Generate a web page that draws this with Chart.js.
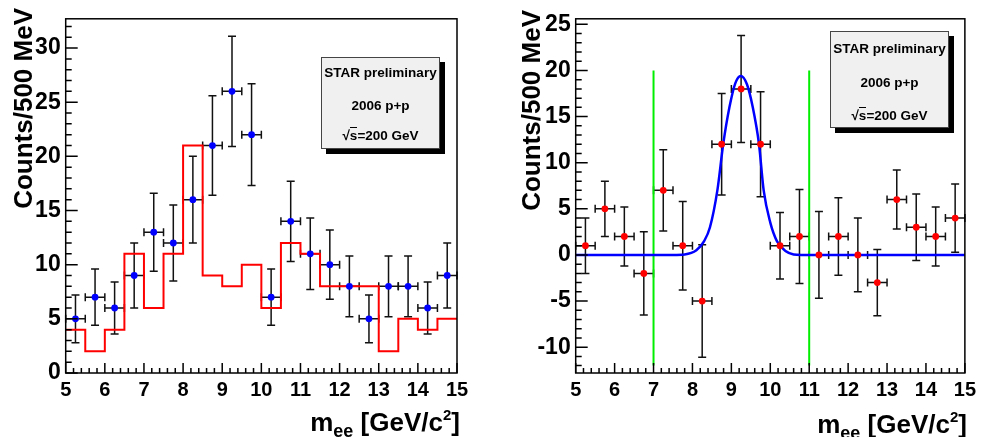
<!DOCTYPE html>
<html>
<head>
<meta charset="utf-8">
<script src="https://cdn.jsdelivr.net/npm/chart.js@4.4.1/dist/chart.umd.min.js"></script>
<style>
  body { margin: 0; background: #fff; font-family: "Liberation Sans", Arial, sans-serif; }
  #wrap { position: relative; width: 981px; height: 437px; overflow: hidden; }
  .pane { position: absolute; top: 0; }
  .ytitle {
    position: absolute; width: 300px; text-align: right; white-space: nowrap;
    font-weight: bold; font-size: 26px; line-height: 26px;
    transform-origin: left top; transform: rotate(-90deg);
  }
  .xtitle {
    position: absolute; text-align: right; white-space: nowrap;
    font-weight: bold; font-size: 26px; line-height: 30px;
  }
  .xtitle sub { font-size: 18px; vertical-align: -6px; }
  .xtitle sup { font-size: 15px; vertical-align: 11px; }
  .label {
    position: absolute; width: 117px; background: #f0f0f0; border: 1px solid #444;
    box-shadow: 5px 5px 0 #000; font-weight: bold; font-size: 13.5px; text-align: center;
  }
  .label div { position: absolute; left: 0; width: 100%; }
  .rt { border-top: 1.5px solid #000; }
</style>
</head>
<body>
<div id="wrap">
  <div class="pane" style="left:0"><canvas id="leftChart" width="490" height="437"></canvas></div>
  <div class="pane" style="left:490px"><canvas id="rightChart" width="491" height="437"></canvas></div>

  <div class="ytitle" style="left:10px; top:308px">Counts/500 MeV</div>
  <div class="ytitle" style="left:518px; top:310px">Counts/500 MeV</div>
  <div class="xtitle" style="right:521px; top:400px">m<sub>ee</sub> [GeV/c<sup>2</sup>]</div>
  <div class="xtitle" style="right:14px; top:402px">m<sub>ee</sub> [GeV/c<sup>2</sup>]</div>

  <div class="label" style="left:321px; top:57px; height:90px">
    <div style="top:7px">STAR preliminary</div>
    <div style="top:40px">2006 p+p</div>
    <div style="top:70px">√<span class="rt">s</span>=200 GeV</div>
  </div>
  <div class="label" style="left:830px; top:31px; height:95px">
    <div style="top:9px">STAR preliminary</div>
    <div style="top:43px">2006 p+p</div>
    <div style="top:76px">√<span class="rt">s</span>=200 GeV</div>
  </div>
</div>

<script>
// bins of 500 MeV between 5 and 15 GeV
const binCenters = [5.25, 5.75, 6.25, 6.75, 7.25, 7.75, 8.25, 8.75, 9.25, 9.75,
                    10.25, 10.75, 11.25, 11.75, 12.25, 12.75, 13.25, 13.75, 14.25, 14.75];
const binLowEdges = [5, 5.5, 6, 6.5, 7, 7.5, 8, 8.5, 9, 9.5,
                     10, 10.5, 11, 11.5, 12, 12.5, 13, 13.5, 14, 14.5];
const binHalfWidth = 0.25;
const xMaxEdge = 15;

// left: unlike-sign pairs (points) and like-sign pairs (red histogram)
const unlikeSign = [5, 7, 6, 9, 13, 12, 16, 21, 26, 22, 7, 14, 11, 10, 8, 5, 8, 8, 6, 9];
const unlikeErr = [2.2, 2.6, 2.4, 3.0, 3.6, 3.5, 4.0, 4.6, 5.1, 4.7, 2.6, 3.7, 3.3, 3.2, 2.8, 2.2, 2.8, 2.8, 2.4, 3.0];
const likeSign = [4, 2, 4, 11, 6, 11, 21, 9, 8, 10, 6, 12, 11, 8, 8, 8, 2, 5, 4, 5];

// right: background-subtracted signal with fit
const signal = [1, 5, 2, -2, 7, 1, -5, 12, 18, 12, 1, 2, 0, 2, 0, -3, 6, 3, 2, 4];
const signalErr = [3.0, 3.0, 3.2, 4.5, 4.4, 4.8, 6.1, 5.5, 5.8, 5.7, 3.6, 5.1, 4.7, 4.2, 4.0, 3.6, 3.2, 3.6, 3.2, 3.7];
const fitX = [5.0, 7.5, 7.8, 8.1, 8.3, 8.45, 8.64, 8.79, 8.95, 9.1, 9.24, 9.4, 9.55, 9.71, 9.83, 10.0, 10.17, 10.4, 10.6, 10.8, 15.0];
const fitY = [0, 0, 0.05, 0.5, 1.5, 3.0, 7.0, 12.0, 16.0, 18.6, 19.4, 18.5, 16.0, 12.0, 7.0, 3.5, 1.5, 0.4, 0.05, 0, 0];

// mass window cuts
const cutLines = [7, 11];
const cutYRange = [-12, 20];

const FONT = "'Liberation Sans', Arial, sans-serif";

function drawErrors(chart, xs, ys, es) {
  const { ctx, scales: { x, y } } = chart;
  ctx.save();
  ctx.strokeStyle = "#111";
  ctx.lineWidth = 1.5;
  xs.forEach((xv, i) => {
    const px = x.getPixelForValue(xv);
    const py = y.getPixelForValue(ys[i]);
    const x0 = x.getPixelForValue(xv - binHalfWidth);
    const x1 = x.getPixelForValue(xv + binHalfWidth);
    const yTop = y.getPixelForValue(ys[i] + es[i]);
    const yBot = y.getPixelForValue(ys[i] - es[i]);
    ctx.beginPath();
    ctx.moveTo(px, yTop); ctx.lineTo(px, yBot);
    ctx.moveTo(px - 4, yTop); ctx.lineTo(px + 4, yTop);
    ctx.moveTo(px - 4, yBot); ctx.lineTo(px + 4, yBot);
    ctx.moveTo(x0, py); ctx.lineTo(x1, py);
    ctx.moveTo(x0, py - 4); ctx.lineTo(x0, py + 4);
    ctx.moveTo(x1, py - 4); ctx.lineTo(x1, py + 4);
    ctx.stroke();
  });
  ctx.restore();
}

// frame plus ROOT-like inward ticks
function drawFrame(chart) {
  const { ctx, chartArea: a, scales: { x, y } } = chart;
  ctx.save();
  ctx.strokeStyle = "#000";
  ctx.lineWidth = 1.5;
  ctx.strokeRect(a.left, a.top, a.right - a.left, a.bottom - a.top);
  ctx.beginPath();
  for (let k = Math.round(x.min * 5); k <= Math.round(x.max * 5); k++) {
    const px = x.getPixelForValue(k / 5);
    const len = k % 5 === 0 ? 10 : 5;
    ctx.moveTo(px, a.bottom); ctx.lineTo(px, a.bottom - len);
  }
  for (let v = Math.ceil(y.min); v <= Math.floor(y.max); v++) {
    const py = y.getPixelForValue(v);
    const len = v % 5 === 0 ? 12 : 6;
    ctx.moveTo(a.left, py); ctx.lineTo(a.left + len, py);
  }
  ctx.stroke();
  ctx.restore();
}

const rootStyle = {
  id: "rootStyle",
  beforeDatasetsDraw(chart, args, opts) {
    drawErrors(chart, binCenters, opts.values, opts.errors);
  },
  afterDraw(chart) {
    drawFrame(chart);
  }
};

function makeScales(yMin, yMax, yWidth) {
  return {
    x: {
      type: "linear", min: 5, max: xMaxEdge,
      grid: { display: false, drawTicks: false },
      border: { display: false },
      ticks: { stepSize: 1, padding: 5, color: "#000", font: { family: FONT, size: 20, weight: "bold" } },
      afterFit: s => { s.height = 64; }
    },
    y: {
      type: "linear", min: yMin, max: yMax,
      grid: { display: false, drawTicks: false },
      border: { display: false },
      ticks: { stepSize: 5, padding: 5, color: "#000", font: { family: FONT, size: 23, weight: "bold" } },
      afterBuildTicks: s => {
        const ticks = [];
        for (let v = Math.ceil(s.min / 5) * 5; v <= s.max; v += 5) ticks.push({ value: v });
        s.ticks = ticks;
      },
      afterFit: s => { s.width = yWidth; }
    }
  };
}

// histogram as a stepped line through bin edges
const likeSignSteps = binLowEdges.map((e, i) => ({ x: e, y: likeSign[i] }));
likeSignSteps.push({ x: xMaxEdge, y: likeSign[likeSign.length - 1] });

new Chart(document.getElementById("leftChart"), {
  type: "scatter",
  data: {
    datasets: [
      {
        type: "scatter",
        data: binCenters.map((c, i) => ({ x: c, y: unlikeSign[i] })),
        pointRadius: 3.4, backgroundColor: "#0000ff", borderWidth: 0
      },
      {
        type: "line",
        data: likeSignSteps,
        stepped: "before", borderColor: "#ff0000", borderWidth: 2, pointRadius: 0, fill: false
      }
    ]
  },
  options: {
    responsive: false, animation: false,
    layout: { padding: { top: 6, right: 33, left: 0, bottom: 0 } },
    scales: makeScales(0, 32.7, 65.7),
    plugins: {
      legend: { display: false }, tooltip: { enabled: false },
      rootStyle: { values: unlikeSign, errors: unlikeErr }
    }
  },
  plugins: [rootStyle]
});

new Chart(document.getElementById("rightChart"), {
  type: "scatter",
  data: {
    datasets: [
      {
        type: "scatter",
        data: binCenters.map((c, i) => ({ x: c, y: signal[i] })),
        pointRadius: 3.4, backgroundColor: "#ff0000", borderWidth: 0
      },
      {
        type: "line",
        data: fitX.map((v, i) => ({ x: v, y: fitY[i] })),
        borderColor: "#0000ff", borderWidth: 2.5, pointRadius: 0, fill: false,
        cubicInterpolationMode: "monotone"
      },
      ...cutLines.map(c => ({
        type: "line",
        data: cutYRange.map(v => ({ x: c, y: v })),
        borderColor: "#00ee00", borderWidth: 2, pointRadius: 0, fill: false
      }))
    ]
  },
  options: {
    responsive: false, animation: false,
    layout: { padding: { top: 6, right: 13.7, left: 0, bottom: 0 } },
    scales: makeScales(-12.8, 25.6, 85.7),
    plugins: {
      legend: { display: false }, tooltip: { enabled: false },
      rootStyle: { values: signal, errors: signalErr }
    }
  },
  plugins: [rootStyle]
});
</script>
</body>
</html>
